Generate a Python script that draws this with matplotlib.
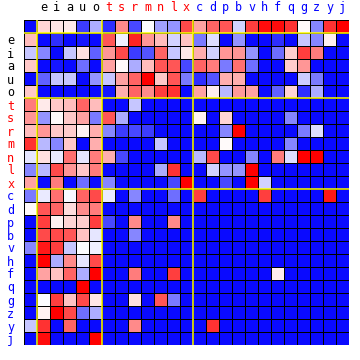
import matplotlib
matplotlib.use("Agg")
import matplotlib.pyplot as plt
import numpy as np

# letters along both axes (index 0 is the unlabeled row/column)
vowels = ["e", "i", "a", "u", "o"]
group_red = ["t", "s", "r", "m", "n", "l", "x"]
group_blue = ["c", "d", "p", "b", "v", "h", "f", "q", "g", "z", "y", "j"]
labels = [""] + vowels + group_red + group_blue
label_colors = ["black"] * (1 + len(vowels)) + ["red"] * len(group_red) + ["blue"] * len(group_blue)

B = -1
values = [
    [B, 0.15, 0.08, 0.06, -0.8, -0.35, -0.85, 0.45, -0.75, -0.03, -0.4, -0.45, 0.7, 0.35, 0.6, 0.65, -0.2, 0.75, 0.95, 0.95, 0.8, 0.0, -0.5, 0.8, 1.0],
    [0.25, B, -0.85, B, -0.95, B, 0.65, -0.08, 0.85, 0.4, 0.25, -0.2, 0.22, -0.55, -0.15, B, -0.45, B, B, -0.85, B, -0.25, -0.5, 0.05, B],
    [-0.25, -0.5, B, -0.25, 0.1, -0.65, 0.4, 0.7, -0.8, -0.7, 0.6, -0.25, 0.07, 0.3, -0.2, 0.4, 0.4, -0.45, B, -0.6, 0.18, 0.75, 0.5, B, B],
    [0.2, B, -0.95, B, -0.6, B, 0.35, 0.0, -0.35, 0.25, 0.65, 0.65, -0.75, 0.6, 0.5, -0.55, 0.55, -0.6, B, B, 0.18, 0.4, B, B, B],
    [B, -0.65, -0.25, -0.25, B, -0.45, -0.25, 0.35, 0.6, 1.0, 0.2, 0.65, -0.55, -0.85, -0.7, 0.3, 0.3, B, B, B, B, -0.22, -0.55, B, B],
    [0.2, B, B, B, B, B, -0.95, 0.3, 0.6, 0.45, 0.75, 0.8, B, 0.35, 0.05, -0.3, 0.38, 0.35, B, -0.65, 0.15, -0.85, -0.35, B, B],
    [0.5, 0.06, 0.2, 0.25, 0.6, 0.25, B, B, -0.25, B, B, B, B, B, B, B, B, B, B, B, B, B, B, B, B],
    [0.4, -0.45, 0.0, 0.2, 0.35, -0.55, 0.65, -0.35, B, B, B, B, B, 0.03, B, 0.15, B, B, B, B, -0.5, B, B, B, B],
    [0.25, 0.4, 0.2, 0.18, 0.03, 0.3, -0.5, -0.8, -0.75, -0.8, B, B, B, B, B, -0.5, 1.0, B, B, B, B, -0.55, -0.15, B, B],
    [0.8, -0.3, -0.5, 0.2, B, 0.3, B, B, B, B, -0.25, B, B, B, B, 0.0, B, B, B, B, -0.5, B, B, B, B],
    [-0.12, 0.1, -0.1, 0.55, -0.12, 0.5, 0.3, -0.75, B, B, B, B, B, -0.3, 0.7, B, B, -0.5, B, 0.5, -0.15, 1.0, 1.0, B, B],
    [-0.5, -0.3, 0.7, 0.4, 0.2, 0.5, B, B, B, B, -0.35, 0.8, B, B, -0.2, -0.45, -0.45, 1.0, B, B, B, B, B, B, B],
    [0.35, B, 0.5, B, -0.6, B, -0.5, B, B, B, B, -0.75, 1.0, B, B, -0.75, B, 1.0, -0.2, B, B, B, B, B, B],
    [-0.55, -0.1, 0.55, -0.05, 0.6, 0.7, -0.1, B, -0.5, B, B, -0.6, B, 0.75, B, B, B, B, 0.75, B, B, B, B, 0.9, B],
    [0.0, 0.65, 0.6, 0.12, 0.45, 0.5, B, B, B, B, B, B, B, B, B, B, B, B, B, B, B, B, B, B, B],
    [B, 0.75, 0.03, 0.15, 0.18, 0.75, -0.75, B, 0.45, B, B, 0.45, B, B, B, B, B, B, B, B, B, B, B, B, B],
    [B, 0.7, 0.7, 0.65, 0.22, -0.12, B, B, -0.5, B, B, B, B, B, B, B, B, B, B, B, B, B, B, B, B],
    [-0.5, 0.9, 0.75, -0.25, -0.03, -0.08, B, B, B, B, B, B, B, B, B, B, B, B, B, B, B, B, B, B, B],
    [B, 1.0, -0.35, 0.45, -0.12, 0.7, B, B, B, B, B, B, B, B, B, B, B, B, B, B, B, B, B, B, B],
    [B, 0.35, 0.22, 0.6, -0.35, 1.0, B, B, 0.5, B, B, 0.75, B, B, B, B, B, B, B, 0.05, B, B, B, B, B],
    [B, B, B, B, 1.0, B, B, B, B, B, B, B, B, B, B, B, B, B, B, B, B, B, B, B, B],
    [B, -0.03, 0.75, 0.22, 0.7, 0.08, B, B, 0.1, B, 0.65, -0.55, B, B, B, B, B, B, B, B, B, B, B, B, B],
    [B, 0.03, 1.0, 0.7, -0.6, -0.35, B, B, B, B, B, B, B, B, B, B, B, B, B, B, B, B, B, B, B],
    [-0.25, 0.8, B, 0.6, B, B, B, B, 0.45, B, B, B, B, B, 0.8, B, B, B, B, B, B, B, B, B, B],
    [B, 0.95, B, B, B, 1.0, B, B, B, B, B, B, B, B, B, B, B, B, B, B, B, B, B, B, B],
]
group_edges = [1, 1 + len(vowels), 1 + len(vowels) + len(group_red)]

data = np.array(values)
n = len(labels)

fig = plt.figure(figsize=(3.6, 3.6), dpi=100)
ax = fig.add_axes([24 / 360, 15 / 360, 325 / 360, 325 / 360])
ax.pcolormesh(np.arange(n + 1), np.arange(n + 1), data, cmap="bwr", vmin=-1.04, vmax=1.0,
              edgecolors="black", linewidth=0.72)
for e in group_edges:
    ax.axvline(e, color="yellow", lw=1.1)
    ax.axhline(e, color="yellow", lw=1.1)

ax.set_xlim(0, n)
ax.set_ylim(n, 0)
ax.set_xticks(np.arange(n) + 0.5)
ax.set_yticks(np.arange(n) + 0.5)
ax.set_xticklabels(labels, family="DejaVu Sans Mono", fontsize=8.5)
ax.set_yticklabels(labels, family="DejaVu Sans Mono", fontsize=8.5)
ax.xaxis.tick_top()
ax.tick_params(axis="x", length=0, pad=4)
ax.tick_params(axis="y", length=0, pad=7)
for t, c in zip(ax.get_xticklabels(), label_colors):
    t.set_color(c)
for t, c in zip(ax.get_yticklabels(), label_colors):
    t.set_color(c)
for s in ax.spines.values():
    s.set_visible(False)

fig.savefig("out.png", dpi=100, facecolor="white")
